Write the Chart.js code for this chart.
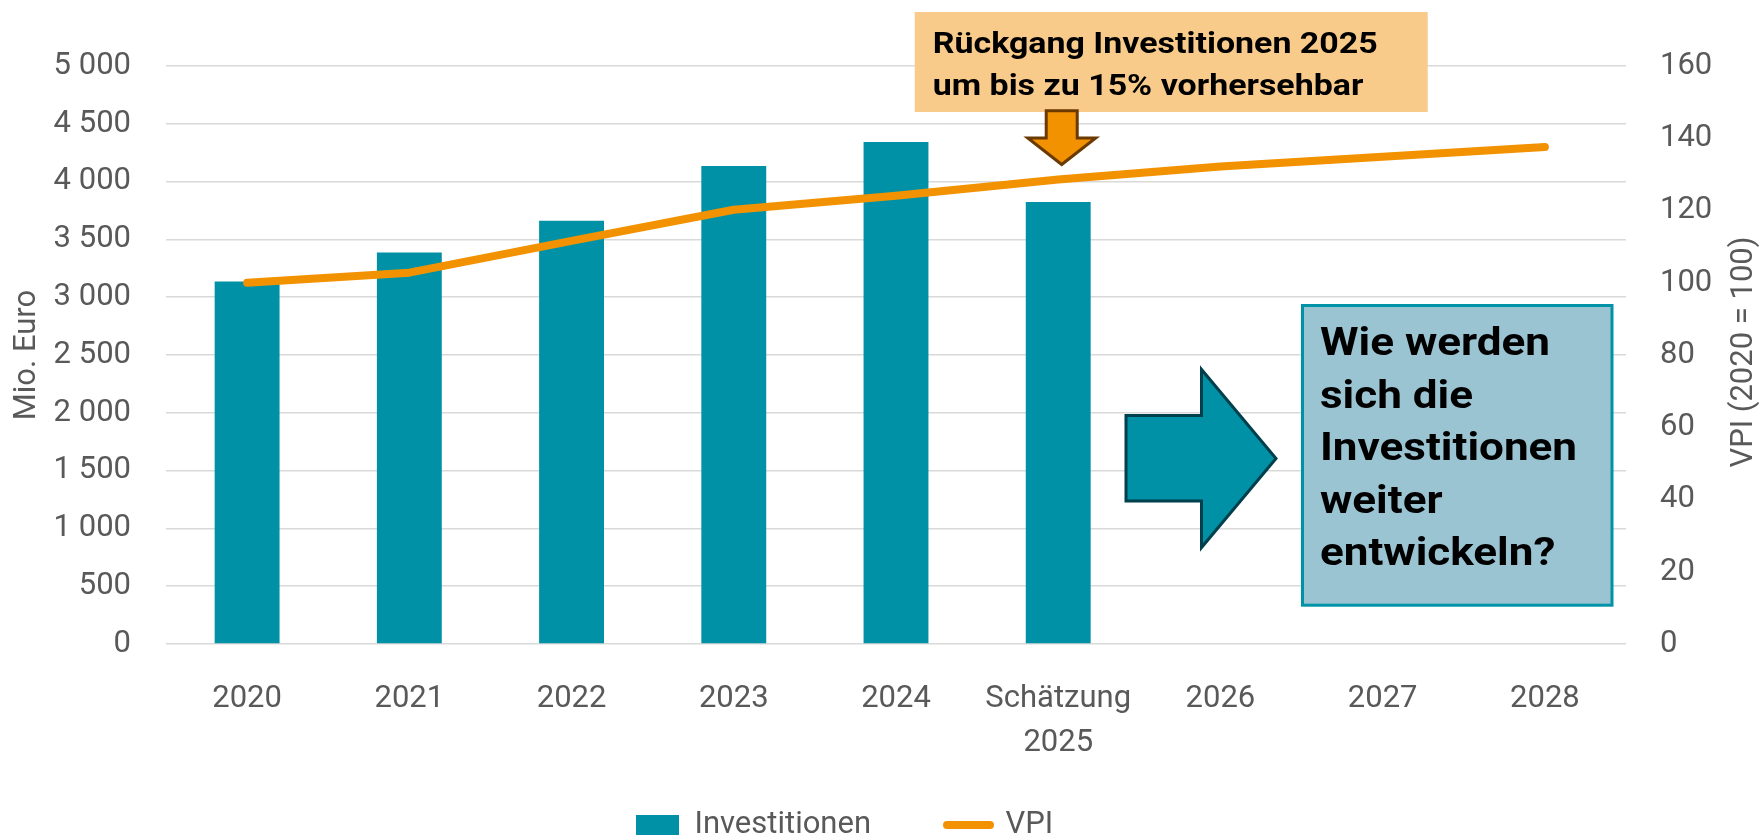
<!DOCTYPE html>
<html lang="de">
<head>
<meta charset="utf-8">
<title>Investitionen und VPI</title>
<script src="https://cdn.jsdelivr.net/npm/chart.js@4/dist/chart.umd.min.js"></script>
<style>
  html, body { margin: 0; padding: 0; background: #fff; }
  #wrap { width: 1760px; height: 838px; }
</style>
</head>
<body>
<div id="wrap"><canvas id="chart" width="1760" height="838"></canvas></div>
<script>
// Daten
const categories = ['2020', '2021', '2022', '2023', '2024', ['Schätzung', '2025'], '2026', '2027', '2028'];
const investitionen = [3135, 3386, 3662, 4135, 4343, 3824, null, null, null];
const vpi = [100, 102.8, 111.6, 120.2, 124.1, 128.6, 132.2, 134.9, 137.6];
const leftTicks = { min: 0, max: 5000, step: 500 };
const rightTicks = { min: 0, max: 160, step: 20 };

const TEAL = '#0091a6';
const ORANGE = '#f39200';
const GREY = '#595959';
const FONT = 'Roboto, "Liberation Sans", sans-serif';

function fmt(v) {
    return String(v).replace(/\B(?=(\d{3})+(?!\d))/g, ' ');
}

// Text horizontal auf Zielbreite bringen (Schrift der Vorlage ist schmaler)
function fitLines(ctx, lines, x, y0, lh, refIdx, refWidth) {
    const k = refWidth / ctx.measureText(lines[refIdx]).width;
    lines.forEach((s, i) => {
        ctx.save();
        ctx.translate(x, y0 + i * lh);
        ctx.scale(k, 1);
        ctx.fillText(s, 0, 0);
        ctx.restore();
    });
}

const annotations = {
    id: 'annotations',
    afterDatasetsDraw(chart) {
        const ctx = chart.ctx;
        const xs = chart.scales.x;
        const cx = xs.getPixelForValue(5) + 3.5;

        ctx.save();
        // orange Box oben
        ctx.fillStyle = '#f9cb8b';
        ctx.fillRect(cx - 147, 12, 513, 100);
        ctx.fillStyle = '#000';
        ctx.font = 'bold 29px ' + FONT;
        ctx.textBaseline = 'alphabetic';
        fitLines(ctx, ['Rückgang Investitionen 2025', 'um bis zu 15% vorhersehbar'], cx - 129, 53, 41.5, 0, 445);

        // Pfeil nach unten
        ctx.beginPath();
        ctx.moveTo(cx - 15.5, 110.8);
        ctx.lineTo(cx + 15.5, 110.8);
        ctx.lineTo(cx + 15.5, 138);
        ctx.lineTo(cx + 34, 138);
        ctx.lineTo(cx, 164.5);
        ctx.lineTo(cx - 34, 138);
        ctx.lineTo(cx - 15.5, 138);
        ctx.closePath();
        ctx.fillStyle = ORANGE;
        ctx.fill();
        ctx.lineWidth = 3;
        ctx.strokeStyle = '#6b3a00';
        ctx.lineJoin = 'miter';
        ctx.stroke();

        // großer Pfeil nach rechts
        ctx.beginPath();
        ctx.moveTo(1126, 415.5);
        ctx.lineTo(1201.5, 415.5);
        ctx.lineTo(1201.5, 369.5);
        ctx.lineTo(1276, 458.5);
        ctx.lineTo(1201.5, 547.5);
        ctx.lineTo(1201.5, 501);
        ctx.lineTo(1126, 501);
        ctx.closePath();
        ctx.fillStyle = TEAL;
        ctx.fill();
        ctx.strokeStyle = '#003f4c';
        ctx.lineWidth = 3;
        ctx.stroke();

        // Frage-Box
        ctx.fillStyle = '#9bc4d2';
        ctx.fillRect(1302.5, 305.5, 309.5, 299.7);
        ctx.strokeStyle = '#0093a8';
        ctx.lineWidth = 3;
        ctx.strokeRect(1302.5, 305.5, 309.5, 299.7);
        ctx.fillStyle = '#000';
        ctx.font = 'bold 39px ' + FONT;
        fitLines(ctx, ['Wie werden', 'sich die', 'Investitionen', 'weiter', 'entwickeln?'], 1320, 355, 52.5, 2, 257);

        // Titel rechte Achse (von unten nach oben)
        ctx.fillStyle = GREY;
        ctx.font = '31px ' + FONT;
        ctx.textAlign = 'center';
        ctx.textBaseline = 'middle';
        ctx.translate(1744, 352);
        ctx.rotate(-Math.PI / 2);
        ctx.fillText('VPI (2020 = 100)', 0, 0);
        ctx.restore();
    }
};

// Legende an die Stelle der Vorlage schieben
const legendPlace = {
    id: 'legendPlace',
    afterLayout(chart) {
        const lg = chart.legend;
        const pad = lg.options.labels.padding;
        lg.left = 636 - pad;
        lg.right = 1760;
        lg.top = 825 - pad - 15.5;
    }
};

const ctx = document.getElementById('chart').getContext('2d');

new Chart(ctx, {
    data: {
        labels: categories,
        datasets: [
            {
                type: 'bar',
                label: 'Investitionen',
                data: investitionen,
                backgroundColor: TEAL,
                borderWidth: 0,
                barPercentage: 0.4,
                categoryPercentage: 1,
                yAxisID: 'y',
                order: 2
            },
            {
                type: 'line',
                label: 'VPI',
                data: vpi,
                borderColor: ORANGE,
                backgroundColor: ORANGE,
                borderWidth: 8,
                borderCapStyle: 'round',
                borderJoinStyle: 'round',
                pointRadius: 0,
                tension: 0,
                yAxisID: 'y2',
                order: 1
            }
        ]
    },
    options: {
        responsive: false,
        animation: false,
        devicePixelRatio: 1,
        layout: { padding: { top: 66, left: 0, right: 0, bottom: 0 } },
        scales: {
            x: {
                grid: { display: false },
                border: { display: false },
                ticks: {
                    color: GREY,
                    padding: 26,
                    maxRotation: 0,
                    autoSkip: false,
                    font: { family: FONT, size: 31, lineHeight: 1.4 }
                },
                afterFit(scale) {
                    const lg = scale.chart.legend;
                    scale.height = 194 - (lg ? lg.height : 0);
                }
            },
            y: {
                position: 'left',
                min: leftTicks.min,
                max: leftTicks.max,
                grid: { color: '#d9d9d9', lineWidth: 1.5, drawTicks: false },
                border: { display: false },
                ticks: {
                    stepSize: leftTicks.step,
                    color: GREY,
                    padding: 35,
                    font: { family: FONT, size: 31 },
                    callback: (v) => fmt(v)
                },
                title: {
                    display: true,
                    text: 'Mio. Euro',
                    color: GREY,
                    font: { family: FONT, size: 31, lineHeight: 1.2 },
                    padding: { top: 9, bottom: 0 }
                },
                afterFit(scale) { scale.width = 166; }
            },
            y2: {
                position: 'right',
                min: rightTicks.min,
                max: rightTicks.max,
                grid: { display: false, drawTicks: false },
                border: { display: false },
                ticks: {
                    stepSize: rightTicks.step,
                    color: GREY,
                    padding: 34,
                    font: { family: FONT, size: 31 }
                },
                afterFit(scale) { scale.width = 134; }
            }
        },
        plugins: {
            tooltip: { enabled: false },
            legend: {
                display: true,
                position: 'bottom',
                align: 'start',
                maxHeight: 10,
                labels: {
                    color: GREY,
                    font: { family: FONT, size: 31 },
                    usePointStyle: true,
                    pointStyleWidth: 43,
                    boxHeight: 20,
                    padding: 76,
                    sort: (a, b) => a.datasetIndex - b.datasetIndex,
                    generateLabels(chart) {
                        const items = Chart.defaults.plugins.legend.labels.generateLabels(chart);
                        items.forEach((it) => {
                            if (it.datasetIndex === 0) {
                                it.pointStyle = 'rect';
                                it.lineWidth = 0;
                                it.fillStyle = TEAL;
                            } else {
                                it.pointStyle = 'line';
                                it.lineWidth = 8;
                                it.lineCap = 'round';
                                it.strokeStyle = ORANGE;
                            }
                        });
                        return items;
                    }
                }
            }
        }
    },
    plugins: [annotations, legendPlace]
});
</script>
</body>
</html>
